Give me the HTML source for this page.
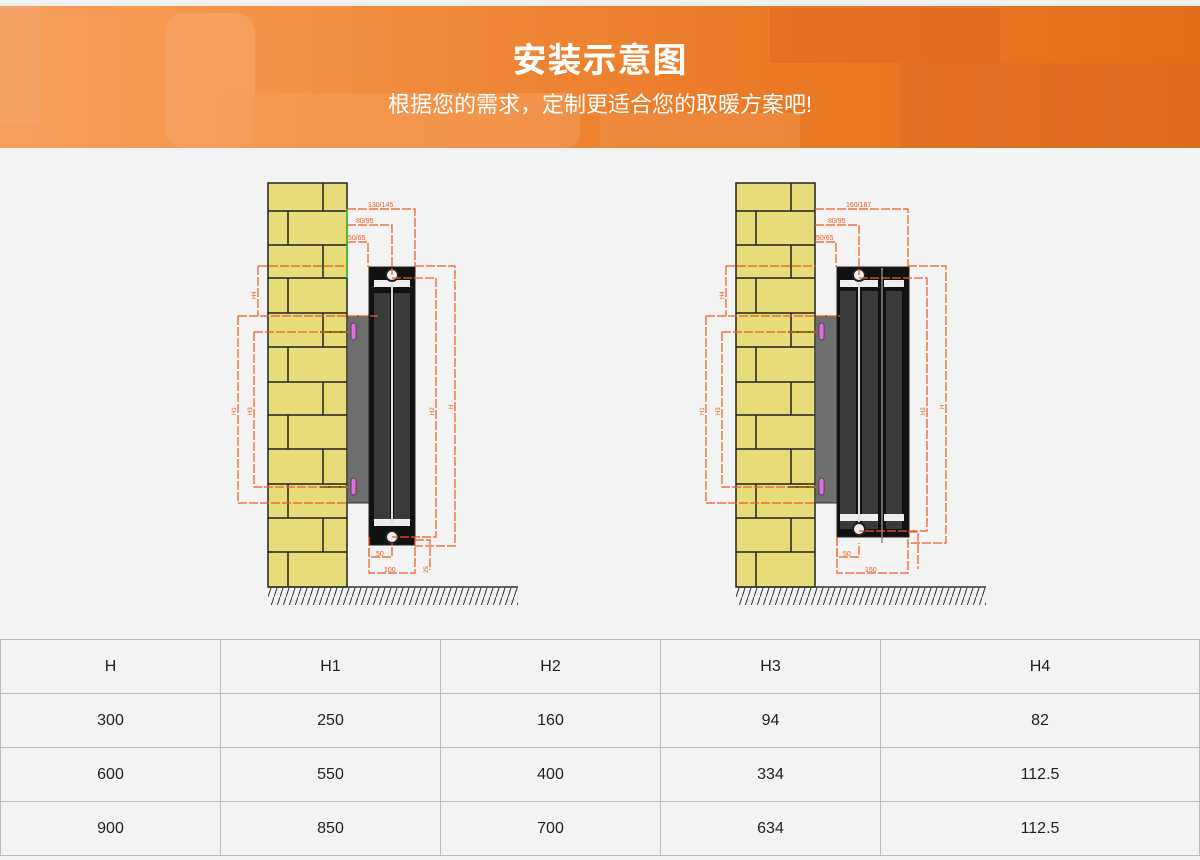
<!DOCTYPE html>
<html><head><meta charset="utf-8">
<style>
html,body{margin:0;padding:0;background:#f3f3f3;width:1200px;height:860px;overflow:hidden;font-family:"Liberation Sans","Noto Sans CJK SC",sans-serif;}
.hdr{position:absolute;left:0;top:3px;width:1200px;height:145px;background:linear-gradient(90deg,#f6a060 0%,#f08a3a 35%,#ea7a26 65%,#e06d1a 100%);overflow:hidden}
.hdr .t1{position:absolute;left:0;width:1200px;top:30px;text-align:center;color:#fff;font-size:34px;font-weight:bold;letter-spacing:1px}
.hdr .t2{position:absolute;left:0;width:1200px;top:84px;text-align:center;color:#fff;font-size:22px}
table{position:absolute;left:0;top:639px;border-collapse:collapse;}
td{border:1px solid #bdbdbd;height:53px;text-align:center;font-size:16px;color:#222;padding:0}
</style></head><body>
<div class="hdr">
<svg width="1200" height="145" style="position:absolute;left:0;top:0">
<rect x="0" y="0" width="40" height="120" fill="#f4a56a" opacity=".6"/>
<rect x="165" y="10" width="90" height="135" rx="20" fill="#f5a468" opacity=".7"/>
<rect x="220" y="90" width="360" height="55" rx="15" fill="#f49c5a" opacity=".6"/>
<rect x="600" y="110" width="200" height="35" fill="#ef8f46" opacity=".6"/>
<rect x="770" y="5" width="230" height="55" fill="#d8661a" opacity=".5"/>
<rect x="900" y="60" width="300" height="85" fill="#d86a20" opacity=".4"/>
<rect x="0" y="0" width="1200" height="3" fill="#eee"/>
</svg>
<div class="t1">安装示意图</div>
<div class="t2">根据您的需求，定制更适合您的取暖方案吧!</div>
</div>

<svg width="1200" height="640" style="position:absolute;left:0;top:0" font-family="Liberation Sans" font-size="7">
<defs>
<pattern id="hatch" width="6" height="18" patternUnits="userSpaceOnUse"><line x1="6" y1="0" x2="0" y2="18" stroke="#333" stroke-width="1"/></pattern>
<g id="wall">
<rect x="0" y="0" width="79" height="404" fill="#e6dc7a" stroke="#222" stroke-width="1.5"/>
<g stroke="#222" stroke-width="1.5">
<line x1="0" y1="28" x2="79" y2="28"/><line x1="0" y1="62" x2="79" y2="62"/><line x1="0" y1="95" x2="79" y2="95"/>
<line x1="0" y1="130" x2="79" y2="130"/><line x1="0" y1="164" x2="79" y2="164"/><line x1="0" y1="199" x2="79" y2="199"/>
<line x1="0" y1="232" x2="79" y2="232"/><line x1="0" y1="266" x2="79" y2="266"/><line x1="0" y1="301" x2="79" y2="301"/>
<line x1="0" y1="335" x2="79" y2="335"/><line x1="0" y1="369" x2="79" y2="369"/>
<line x1="55" y1="0" x2="55" y2="28"/><line x1="20" y1="28" x2="20" y2="62"/><line x1="55" y1="62" x2="55" y2="95"/>
<line x1="20" y1="95" x2="20" y2="130"/><line x1="55" y1="130" x2="55" y2="164"/><line x1="20" y1="164" x2="20" y2="199"/>
<line x1="55" y1="199" x2="55" y2="232"/><line x1="20" y1="232" x2="20" y2="266"/><line x1="55" y1="266" x2="55" y2="301"/>
<line x1="20" y1="301" x2="20" y2="335"/><line x1="55" y1="335" x2="55" y2="369"/><line x1="20" y1="369" x2="20" y2="404"/>
</g>
<line x1="0" y1="404" x2="250" y2="404" stroke="#333" stroke-width="1.5"/>
<rect x="0" y="405" width="250" height="17" fill="url(#hatch)"/>
<rect x="79" y="133" width="22" height="187" fill="#6e6e6e" stroke="#333"/>
<g fill="#e070e0" stroke="#333" stroke-width=".7"><rect x="83" y="140" width="5" height="17" rx="2.5"/><rect x="83" y="295" width="5" height="17" rx="2.5"/></g>
<g stroke="#2a7a10" stroke-width="2"><line x1="52" y1="149" x2="79" y2="149"/><line x1="52" y1="304" x2="79" y2="304"/></g>
</g>
</defs>

<!-- LEFT -->
<g transform="translate(268,183)">
<use href="#wall"/>
<line x1="79" y1="26" x2="79" y2="95" stroke="#3c3" stroke-width="1.5"/>
<rect x="101" y="84" width="46" height="278" fill="#111" stroke="#222"/>
<rect x="106" y="110" width="16" height="232" fill="#3a3a3a"/><rect x="126" y="110" width="16" height="232" fill="#3a3a3a"/>
<rect x="106" y="97" width="36" height="7" fill="#eee"/><rect x="106" y="336" width="36" height="7" fill="#eee"/>
<line x1="124" y1="100" x2="124" y2="340" stroke="#ddd" stroke-width="2"/>
<circle cx="124" cy="92" r="6" fill="#eee" stroke="#222" stroke-width="2"/><circle cx="124" cy="354" r="6" fill="#eee" stroke="#222" stroke-width="2"/>
<g fill="none" stroke="#f05a1e" stroke-width="1.2" stroke-dasharray="9,2">
<path d="M79 26 H147 V84"/><path d="M79 42 H124 V92"/><path d="M79 59 H100 V84"/>
<path d="M-10 83 H80 M-10 83 V133 M-30 133 H110"/>
<path d="M-30 133 V320 H79"/>
<path d="M-14 149 H80 M-14 149 V304 H80"/>
<path d="M147 83 H187 V363 H147"/><path d="M124 95 H168 V354 H124"/>
<path d="M101 354 V390 H147 V354"/><path d="M101 354 V374 H124 V360"/><path d="M147 357 H162 V387"/>
</g>
<g fill="#f05a1e" font-size="7"><text x="100" y="24">130/145</text><text x="88" y="40">80/95</text><text x="80" y="57">50/65</text>
<text x="108" y="373">50</text><text x="116" y="389">100</text></g>
<g fill="#f05a1e" font-size="6"><text transform="translate(-12,116) rotate(-90)">H4</text><text transform="translate(-32,232) rotate(-90)">H1</text><text transform="translate(-16,232) rotate(-90)">H3</text><text transform="translate(166,232) rotate(-90)">H2</text><text transform="translate(185,226) rotate(-90)">H</text><text transform="translate(160,390) rotate(-90)">25</text></g>
</g>

<!-- RIGHT -->
<g transform="translate(736,183)">
<use href="#wall"/>
<rect x="101" y="84" width="72" height="270" fill="#111" stroke="#222"/>
<rect x="104" y="108" width="16" height="238" fill="#3a3a3a"/><rect x="126" y="108" width="16" height="238" fill="#3a3a3a"/><rect x="150" y="108" width="16" height="238" fill="#3a3a3a"/>
<rect x="104" y="97" width="38" height="7" fill="#eee"/><rect x="148" y="97" width="20" height="7" fill="#eee"/>
<rect x="104" y="331" width="38" height="7" fill="#eee"/><rect x="148" y="331" width="20" height="7" fill="#eee"/>
<line x1="123" y1="100" x2="123" y2="340" stroke="#ddd" stroke-width="2"/><line x1="146" y1="85" x2="146" y2="360" stroke="#888" stroke-width="1.5"/>
<circle cx="123" cy="92" r="6" fill="#eee" stroke="#222" stroke-width="2"/><circle cx="123" cy="346" r="6" fill="#eee" stroke="#222" stroke-width="2"/>
<g fill="none" stroke="#f05a1e" stroke-width="1.2" stroke-dasharray="9,2">
<path d="M79 26 H172 V84"/><path d="M79 42 H123 V92"/><path d="M79 59 H100 V84"/>
<path d="M-10 83 H80 M-10 83 V133 M-30 133 H104"/>
<path d="M-30 133 V320 H79"/>
<path d="M-14 149 H80 M-14 149 V304 H80"/>
<path d="M172 83 H210 V360 H172"/><path d="M123 95 H191 V348 H123"/>
<path d="M101 354 V390 H172 V354"/><path d="M101 354 V374 H123 V360"/><path d="M172 349 H182 V386"/>
</g>
<g fill="#f05a1e" font-size="7"><text x="110" y="24">160/187</text><text x="92" y="40">80/95</text><text x="80" y="57">50/65</text>
<text x="107" y="373">50</text><text x="129" y="389">150</text></g>
<g fill="#f05a1e" font-size="6"><text transform="translate(-12,116) rotate(-90)">H4</text><text transform="translate(-32,232) rotate(-90)">H1</text><text transform="translate(-16,232) rotate(-90)">H3</text><text transform="translate(189,232) rotate(-90)">H2</text><text transform="translate(208,226) rotate(-90)">H</text></g>
</g>
</svg>

<table>
<tr><td style="width:219px">H</td><td style="width:219px">H1</td><td style="width:219px">H2</td><td style="width:219px">H3</td><td style="width:318px">H4</td></tr>
<tr><td>300</td><td>250</td><td>160</td><td>94</td><td>82</td></tr>
<tr><td>600</td><td>550</td><td>400</td><td>334</td><td>112.5</td></tr>
<tr><td>900</td><td>850</td><td>700</td><td>634</td><td>112.5</td></tr>
</table>
</body></html>
